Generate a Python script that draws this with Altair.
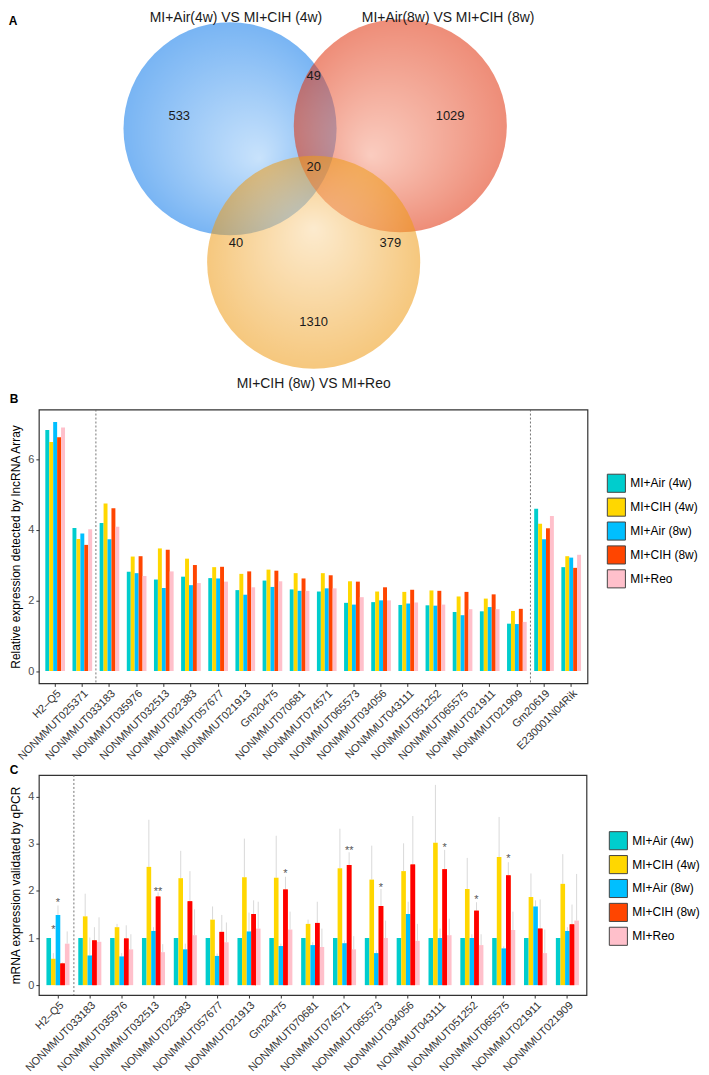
import altair as alt
import pandas as pd

FONT = "Liberation Sans"

# ---------------- shared series ----------------
series = ["MI+Air (4w)", "MI+CIH (4w)", "MI+Air (8w)", "MI+CIH (8w)", "MI+Reo"]
colors = ["#00CDCD", "#FFD700", "#00BFFF", "#FF4500", "#FFC0CB"]
c_red_bar = "#FF0000"

# ---------------- panel A: Venn ----------------
venn_sets = ["MI+Air(4w)  VS MI+CIH (4w)", "MI+Air(8w)  VS MI+CIH (8w)", "MI+CIH (8w) VS MI+Reo"]
venn_cx = [229, 400, 313]
venn_cy = [126, 123, 260]
venn_label_x = [235, 448, 313]
venn_label_y = [15, 15, 382]
region_counts = [533, 49, 1029, 20, 40, 379, 1310]
region_x = [178, 313, 450, 313, 235, 390, 313]
region_y = [113, 73, 113, 164, 241, 241, 320]
panel_a_label = ["A"]
panel_a_x = [11]
panel_a_y = [18]

# ---------------- panel B: lncRNA array ----------------
b_genes = ["H2–Q5", "NONMMUT025371", "NONMMUT033183", "NONMMUT035976", "NONMMUT032513",
           "NONMMUT022383", "NONMMUT057677", "NONMMUT021913", "Gm20475", "NONMMUT070681",
           "NONMMUT074571", "NONMMUT065573", "NONMMUT034056", "NONMMUT043111", "NONMMUT051252",
           "NONMMUT065575", "NONMMUT021911", "NONMMUT021909", "Gm20619", "E230001N04Rik"]
b_air4 = [6.82, 4.05, 4.19, 2.81, 2.59, 2.67, 2.63, 2.29, 2.56, 2.31, 2.25, 1.93, 1.95, 1.87, 1.86, 1.67, 1.69, 1.34, 4.59, 2.94]
b_cih4 = [6.48, 3.74, 4.74, 3.24, 3.47, 3.18, 2.94, 2.75, 2.87, 2.77, 2.77, 2.54, 2.25, 2.24, 2.28, 2.11, 2.05, 1.70, 4.17, 3.25]
b_air8 = [7.05, 3.89, 3.73, 2.77, 2.35, 2.43, 2.62, 2.16, 2.38, 2.27, 2.34, 1.88, 2.00, 1.91, 1.85, 1.58, 1.81, 1.33, 3.73, 3.21]
b_cih8 = [6.62, 3.57, 4.61, 3.25, 3.43, 3.00, 2.95, 2.82, 2.84, 2.62, 2.71, 2.53, 2.37, 2.30, 2.27, 2.24, 2.17, 1.76, 4.04, 2.92]
b_reo = [6.89, 4.01, 4.08, 2.69, 2.82, 2.49, 2.53, 2.37, 2.54, 2.27, 2.34, 2.09, 2.00, 1.94, 1.88, 1.75, 1.75, 1.39, 4.39, 3.29]
b_dividers = ["NONMMUT033183", "Gm20619"]
b_ticks = [0, 2, 4, 6]

# ---------------- panel C: qPCR ----------------
c_genes = ["H2–Q5", "NONMMUT033183", "NONMMUT035976", "NONMMUT032513", "NONMMUT022383",
           "NONMMUT057677", "NONMMUT021913", "Gm20475", "NONMMUT070681", "NONMMUT074571",
           "NONMMUT065573", "NONMMUT034056", "NONMMUT043111", "NONMMUT051252", "NONMMUT065575",
           "NONMMUT021911", "NONMMUT021909"]
c_air4 = [1.00] * 17
c_cih4 = [0.56, 1.46, 1.23, 2.51, 2.27, 1.39, 2.29, 2.28, 1.30, 2.48, 2.24, 2.42, 3.02, 2.04, 2.72, 1.87, 2.15]
c_air8 = [1.49, 0.63, 0.61, 1.15, 0.76, 0.62, 1.14, 0.83, 0.85, 0.89, 0.68, 1.51, 1.00, 1.00, 0.78, 1.67, 1.15]
c_cih8 = [0.46, 0.95, 0.99, 1.88, 1.78, 1.13, 1.51, 2.03, 1.32, 2.55, 1.68, 2.56, 2.46, 1.58, 2.33, 1.20, 1.29]
c_reo = [0.88, 0.92, 0.76, 0.70, 1.06, 0.91, 1.20, 1.18, 0.81, 0.76, 1.00, 0.94, 1.06, 0.85, 1.17, 0.68, 1.37]
c_air4_err = [0.0] * 17
c_cih4_err = [0.12, 0.48, 0.07, 1.00, 0.58, 0.28, 0.82, 0.89, 0.09, 0.84, 0.72, 0.59, 1.23, 0.66, 0.85, 0.50, 0.63]
c_air8_err = [0.20, 0.38, 0.07, 0.08, 0.12, 0.05, 0.40, 0.05, 0.06, 0.06, 0.06, 0.26, 0.20, 0.08, 0.04, 0.13, 0.08]
c_cih8_err = [0.02, 0.28, 0.28, 0.09, 0.64, 0.36, 0.29, 0.27, 0.45, 0.27, 0.36, 1.03, 0.41, 0.18, 0.28, 0.62, 0.42]
c_reo_err = [0.26, 0.52, 0.32, 0.17, 0.55, 0.42, 0.57, 0.38, 0.39, 0.28, 0.37, 0.36, 0.35, 0.23, 0.39, 0.50, 0.99]
c_dividers = ["NONMMUT033183"]
c_ticks = [0, 1, 2, 3, 4]
star_genes = ["H2–Q5", "H2–Q5", "NONMMUT032513", "Gm20475", "NONMMUT074571",
              "NONMMUT065573", "NONMMUT043111", "NONMMUT051252", "NONMMUT065575"]
star_series = ["MI+CIH (4w)", "MI+Air (8w)", "MI+CIH (8w)", "MI+CIH (8w)", "MI+CIH (8w)",
               "MI+CIH (8w)", "MI+CIH (8w)", "MI+CIH (8w)", "MI+CIH (8w)"]
star_y = [1.23, 1.80, 2.04, 2.43, 2.92, 2.13, 2.98, 1.87, 2.73]
star_text = ["*", "*", "**", "*", "**", "*", "*", "*", "*"]


def long_df(genes, values, errs=None):
    rows = []
    for s_i, s in enumerate(series):
        for g_i, g in enumerate(genes):
            v = values[s_i][g_i]
            row = {"gene": g, "series": s, "value": v}
            if errs is not None:
                row["upper"] = v + errs[s_i][g_i]
            rows.append(row)
    return pd.DataFrame(rows)


# ================= Venn =================
venn_df = pd.DataFrame({"set": venn_sets, "cx": venn_cx, "cy": venn_cy,
                        "lx": venn_label_x, "ly": venn_label_y})
region_df = pd.DataFrame({"count": region_counts, "x": region_x, "y": region_y})
a_df = pd.DataFrame({"label": panel_a_label, "x": panel_a_x, "y": panel_a_y})

vx = alt.Scale(domain=[37, 588], nice=False, zero=False)
vy = alt.Scale(domain=[8, 378], nice=False, zero=False, reverse=True)


def grad(inner, outer, fx, fy):
    return {"gradient": "radial", "x1": fx, "y1": fy, "r1": 0,
            "x2": 0.5, "y2": 0.5, "r2": 0.5,
            "stops": [{"offset": 0, "color": inner}, {"offset": 1, "color": outer}]}


grads = [grad("#9ccbf9", "#0b78ea", 0.64, 0.64),
         grad("#f6a38c", "#e0300a", 0.36, 0.64),
         grad("#fadaa6", "#ee9a14", 0.5, 0.34)]

circle_layers = []
for i in range(3):
    circle_layers.append(
        alt.Chart(venn_df.iloc[[i]]).mark_circle(
            size=45800, color=grads[i], opacity=0.55
        ).encode(x=alt.X("cx:Q", scale=vx, axis=None), y=alt.Y("cy:Q", scale=vy, axis=None))
    )

counts = alt.Chart(region_df).mark_text(fontSize=13, font=FONT, color="#1a1a1a").encode(
    x=alt.X("x:Q", scale=vx, axis=None), y=alt.Y("y:Q", scale=vy, axis=None), text="count:Q")
set_labels = alt.Chart(venn_df).mark_text(fontSize=14, font=FONT, color="#1a1a1a").encode(
    x=alt.X("lx:Q", scale=vx, axis=None), y=alt.Y("ly:Q", scale=vy, axis=None), text="set:N")
a_label = alt.Chart(a_df).mark_text(fontSize=12, font=FONT, fontWeight="bold", color="black").encode(
    x=alt.X("x:Q", scale=vx, axis=None), y=alt.Y("y:Q", scale=vy, axis=None), text="label:N")

venn = alt.layer(*circle_layers, counts, set_labels, a_label).properties(width=551, height=370)


# ================= bar panels =================
def x_enc(genes, band=None):
    kw = {}
    if band is not None:
        kw["bandPosition"] = band
    return alt.X("gene:N", sort=genes,
                 scale=alt.Scale(domain=genes, paddingInner=0, paddingOuter=0.1),
                 axis=alt.Axis(title=None, labelAngle=315, labelAlign="right", labelBaseline="top",
                               labelPadding=1, labelFontSize=11, labelColor="#333333"),
                 **kw)


xoff = alt.XOffset("series:N", sort=series,
                   scale=alt.Scale(domain=series, paddingInner=0, paddingOuter=0.95))


def legend(lx, ly):
    return alt.Legend(title=None, orient="none", legendX=lx, legendY=ly, symbolType="square",
                      symbolSize=330, symbolStrokeColor="#444444", symbolStrokeWidth=1,
                      symbolOpacity=1, labelFontSize=12, labelFont=FONT, labelColor="black",
                      rowPadding=0, labelOffset=4)


# ---- B ----
b_df = long_df(b_genes, [b_air4, b_cih4, b_air8, b_cih8, b_reo])
b_div_df = pd.DataFrame({"gene": b_dividers})
yb = alt.Y("value:Q", scale=alt.Scale(domain=[-0.35, 7.4], nice=False, zero=False),
           axis=alt.Axis(values=b_ticks, title="Relative expression detected by lncRNA Array",
                         titlePadding=5))

b_bars = alt.Chart(b_df).mark_bar().encode(
    x=x_enc(b_genes), xOffset=xoff, y=yb, y2=alt.datum(0),
    color=alt.Color("series:N", sort=series, scale=alt.Scale(domain=series, range=colors),
                    legend=legend(570, 64)))
b_div = alt.Chart(b_div_df).mark_rule(color="#666666", strokeDash=[2, 2], strokeWidth=0.9).encode(
    x=x_enc(b_genes, 0))

chart_b = alt.layer(b_bars, b_div).properties(
    width=551, height=275,
    title=alt.Title("B", offset=3),
    view=alt.ViewBackground(stroke="#333333", strokeWidth=1.2))

# ---- C ----
c_df = long_df(c_genes, [c_air4, c_cih4, c_air8, c_cih8, c_reo],
               [c_air4_err, c_cih4_err, c_air8_err, c_cih8_err, c_reo_err])
c_div_df = pd.DataFrame({"gene": c_dividers})
star_df = pd.DataFrame({"gene": star_genes, "series": star_series, "y": star_y, "t": star_text})

c_scale = alt.Scale(domain=[-0.21, 4.46], nice=False, zero=False)
yc = alt.Y("value:Q", scale=c_scale,
           axis=alt.Axis(values=c_ticks, title="mRNA expression validated by qPCR", titlePadding=5))

c_err = alt.Chart(c_df).mark_rule(color="#d9d9d9", strokeWidth=1).encode(
    x=x_enc(c_genes), xOffset=xoff, y=yc, y2="upper:Q")
c_bars = alt.Chart(c_df).mark_bar().encode(
    x=x_enc(c_genes), xOffset=xoff, y=yc, y2=alt.datum(0),
    color=alt.Color("series:N", sort=series, scale=alt.Scale(domain=series, range=colors),
                    legend=legend(572, 56)))
c_red = alt.Chart(c_df).transform_filter(alt.datum.series == "MI+CIH (8w)").mark_bar(
    color=c_red_bar).encode(x=x_enc(c_genes), xOffset=xoff, y=yc, y2=alt.datum(0))
c_stars = alt.Chart(star_df).mark_text(fontSize=11, color="#555555", font=FONT, dy=3).encode(
    x=x_enc(c_genes), xOffset=xoff, y=alt.Y("y:Q", scale=c_scale), text="t:N")
c_div = alt.Chart(c_div_df).mark_rule(color="#666666", strokeDash=[2, 2], strokeWidth=0.9).encode(
    x=x_enc(c_genes, 0))

chart_c = alt.layer(c_err, c_bars, c_red, c_stars, c_div).properties(
    width=550, height=221,
    title=alt.Title("C", offset=-2),
    view=alt.ViewBackground(stroke="#333333", strokeWidth=1.2))

chart = alt.vconcat(venn, chart_b, chart_c, spacing=0).resolve_scale(
    x="independent", y="independent", color="independent", xOffset="independent"
).resolve_legend(color="independent").properties(
    padding={"left": 0, "top": 0, "right": 0, "bottom": 0}
).configure(font=FONT).configure_view(stroke="transparent").configure_axis(
    domain=False, grid=False, tickColor="#333333", tickSize=3, labelColor="#4d4d4d",
    labelFontSize=11, labelFont=FONT, titleColor="black", titleFontSize=12,
    titleFontWeight="normal", titleFont=FONT
).configure_title(anchor="start", frame="bounds", fontSize=12, fontWeight="bold", font=FONT)

chart.save("out.html", embed_options={"renderer": "svg", "actions": False})
